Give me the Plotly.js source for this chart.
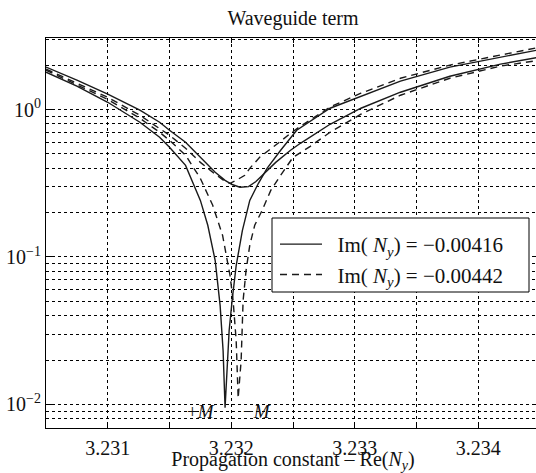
<!DOCTYPE html>
<html>
<head>
<meta charset="utf-8">
<script src="https://cdn.plot.ly/plotly-3.0.1.min.js"></script>
<style>
html,body{margin:0;padding:0;overflow:hidden;background:#fff;font-family:"Liberation Serif";}
#chart{width:540px;height:473px;}
</style>
</head>
<body>
<div id="chart"></div>
<script>
// Deep dip, solid (+M), Im(Ny) = -0.00416
const xSolidDeep = [3.2305,3.23075,3.231,3.23126,3.23142,3.2315,3.23163,3.23175,3.23181,3.23187,3.23191,3.231934,3.23195,3.231967,3.231983,3.232007,3.23204,3.23209,3.23215,3.23222,3.23229,3.2324,3.23253,3.2328,3.23305,3.23337,3.23377,3.23418,3.2345];
const ySolidDeep = [1.79,1.44,1.12,0.82,0.648,0.555,0.418,0.242,0.164,0.0946,0.0468,0.0231,0.0095,0.0197,0.0317,0.0507,0.0875,0.151,0.242,0.316,0.399,0.529,0.723,1.02,1.23,1.56,1.94,2.27,2.55];
// Shallow, solid
const xSolidShallow = [3.2305,3.23075,3.231,3.23126,3.23142,3.2315,3.23163,3.23175,3.23187,3.23195,3.232007,3.23207,3.23214,3.2322,3.23228,3.23236,3.23248,3.23256,3.2328,3.23305,3.23337,3.23377,3.23418,3.2345];
const ySolidShallow = [1.94,1.58,1.27,0.99,0.82,0.723,0.60,0.474,0.375,0.331,0.31,0.297,0.30,0.325,0.375,0.438,0.529,0.59,0.794,1.02,1.31,1.68,2.03,2.27];
// Shallow, dashed
const xDashShallow = [3.2305,3.23075,3.231,3.23126,3.23142,3.2315,3.23163,3.23175,3.23187,3.23195,3.23199,3.23204,3.23211,3.23215,3.23223,3.23232,3.2324,3.23248,3.23256,3.2328,3.23305,3.23337,3.23377,3.23418,3.2345];
const yDashShallow = [1.88,1.51,1.21,0.914,0.746,0.669,0.546,0.438,0.364,0.326,0.316,0.331,0.358,0.399,0.474,0.546,0.61,0.69,0.77,1.04,1.29,1.63,2.0,2.34,2.65];
// Deep dip, dashed (-M), Im(Ny) = -0.00442
const xDashDeep = [3.2305,3.23075,3.231,3.23126,3.23142,3.2315,3.23163,3.23175,3.23185,3.23193,3.23199,3.232015,3.23204,3.232056,3.23208,3.232096,3.23212,3.23215,3.23219,3.23225,3.23232,3.2324,3.2325,3.23264,3.2328,3.23305,3.23337,3.23377,3.23418,3.2345];
const yDashDeep = [1.85,1.48,1.17,0.872,0.701,0.618,0.49,0.341,0.224,0.14,0.0749,0.0507,0.0271,0.011,0.0198,0.0507,0.081,0.12,0.164,0.207,0.283,0.358,0.474,0.563,0.701,0.929,1.25,1.63,1.97,2.16];

const legendLabels = ["\u00a0\u00a0Im( <i>N</i><sub><i>y</i></sub>) = −0.00416","\u00a0\u00a0Im( <i>N</i><sub><i>y</i></sub>) = −0.00442"];
const xTickVals = [3.231,3.232,3.233,3.234];
const xTickText = ["3.231","3.232","3.233","3.234"];
const xMinorVals = [3.2305,3.2315,3.2325,3.2335,3.2345];
const yTickVals = [0.01,0.1,1];
const yTickText = ["10<sup>−2</sup>","10<sup>−1</sup>","10<sup>0</sup>"];
const yMinorVals = [0.007,0.008,0.009,0.02,0.03,0.04,0.05,0.06,0.07,0.08,0.09,0.2,0.3,0.4,0.5,0.6,0.7,0.8,0.9,2,3];
const modeLabels = ["+<i>M</i>","−<i>M</i>"];
const modeLabelX = [3.231754,3.232207];
const modeLabelY = [0.0089,0.0089];

const FONT = "Liberation Serif";
const INK = "#1a1a1a";
const TXT = "#111";
const FS = 20;
const solid = {color:INK,width:1.4,dash:"solid"};
const dashed = {color:INK,width:1.4,dash:"7px,5px"};

const traces = [
  {x:xSolidDeep,y:ySolidDeep,mode:"lines",line:solid,name:legendLabels[0],showlegend:true},
  {x:xSolidShallow,y:ySolidShallow,mode:"lines",line:solid,showlegend:false},
  {x:xDashDeep,y:yDashDeep,mode:"lines",line:dashed,name:legendLabels[1],showlegend:true},
  {x:xDashShallow,y:yDashShallow,mode:"lines",line:dashed,showlegend:false}
];

const gridStyle = {showgrid:true,gridcolor:"#000",gridwidth:1,griddash:"dot"};

const layout = {
  width:540,height:473,
  margin:{l:46,r:0,t:38,b:45},
  paper_bgcolor:"#fff",plot_bgcolor:"#fff",
  font:{family:FONT,size:FS,color:TXT},
  title:{text:"Waveguide term",font:{family:FONT,size:FS,color:TXT},x:0.5,xref:"paper",y:1-18/473,yref:"container",yanchor:"middle"},
  xaxis:Object.assign({
    range:[3.2305,3.2345],
    tickmode:"array",tickvals:xTickVals,ticktext:xTickText,
    ticks:"inside",ticklen:5,tickcolor:"#000",ticklabelstandoff:2,
    showline:true,linecolor:"#000",linewidth:1,mirror:"ticks",
    zeroline:false,
    tickfont:{family:FONT,size:FS,color:TXT},
    title:{text:"Propagation constant – Re(<i>N</i><sub><i>y</i></sub>)",font:{family:FONT,size:FS,color:TXT},standoff:0},
    minor:Object.assign({tickmode:"array",tickvals:xMinorVals,ticks:"inside",ticklen:5,tickcolor:"#000"},gridStyle)
  },gridStyle),
  yaxis:Object.assign({
    type:"log",
    range:[-2.16,0.485],
    tickmode:"array",tickvals:yTickVals,ticktext:yTickText,
    ticks:"inside",ticklen:6,tickcolor:"#000",
    showline:true,linecolor:"#000",linewidth:1,mirror:"ticks",
    zeroline:false,
    tickfont:{family:FONT,size:FS,color:TXT},
    minor:Object.assign({tickmode:"array",tickvals:yMinorVals,ticks:"inside",ticklen:3,tickcolor:"#000"},gridStyle)
  },gridStyle),
  legend:{
    x:(275-46)/494,y:(428-224)/390,xanchor:"left",yanchor:"top",
    bgcolor:"rgba(0,0,0,0)",borderwidth:0,
    font:{family:FONT,size:21,color:TXT},
    itemwidth:42,tracegroupgap:0
  },
  shapes:[{
    type:"rect",xref:"paper",yref:"paper",layer:"above",
    x0:(272-46)/494,x1:(529-46)/494,y0:(428-292)/390,y1:(428-218)/390,
    line:{color:"#000",width:1},fillcolor:"#fff"
  }],
  annotations:modeLabels.map((t,i)=>({
    text:t,x:modeLabelX[i],y:Math.log10(modeLabelY[i]),xref:"x",yref:"y",
    showarrow:false,font:{family:FONT,size:19,color:TXT}
  }))
};

Plotly.newPlot("chart",traces,layout,{displayModeBar:false,staticPlot:true});
</script>
</body>
</html>
